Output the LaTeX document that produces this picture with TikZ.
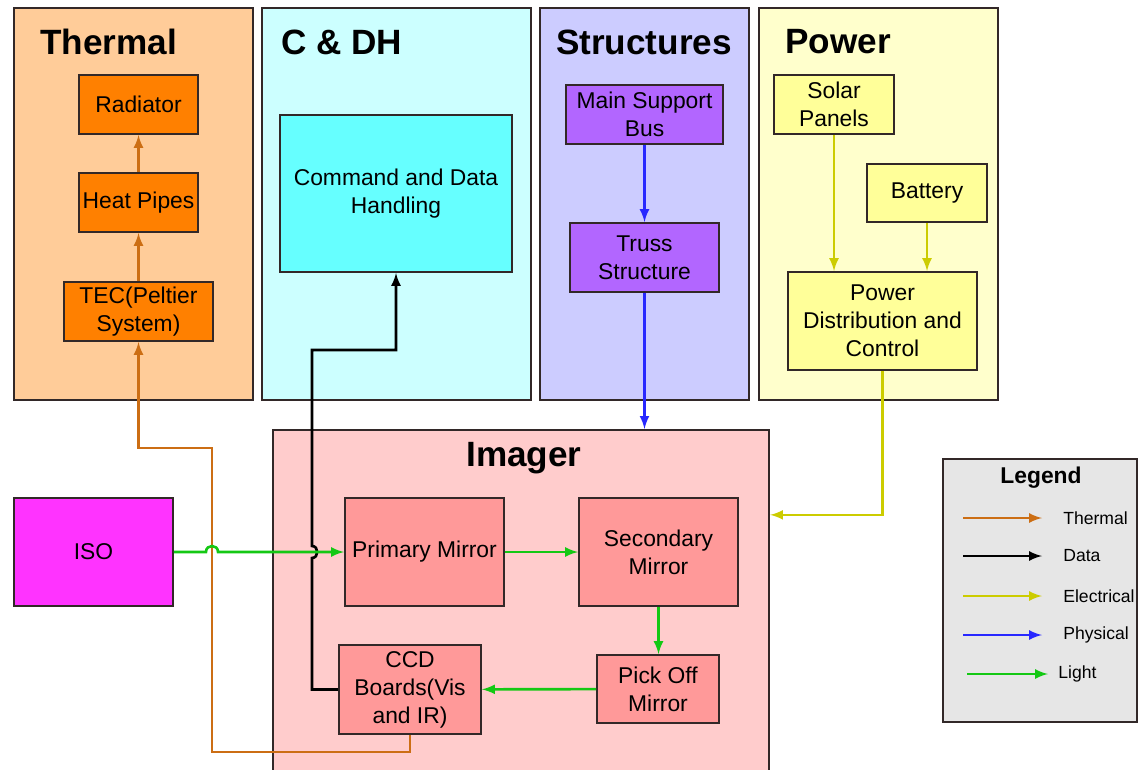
\documentclass[tikz,border=0pt]{standalone}
\usepackage{fontspec}
\setmainfont{Liberation Sans}
\usepackage{xcolor}
\usetikzlibrary{arrows, calc}
\definecolor{thermbg}{RGB}{255,204,153}
\definecolor{cdhbg}{RGB}{204,255,255}
\definecolor{structbg}{RGB}{204,204,255}
\definecolor{powerbg}{RGB}{255,255,204}
\definecolor{imagerbg}{RGB}{255,204,204}
\definecolor{thermbox}{RGB}{255,128,0}
\definecolor{cdhbox}{RGB}{102,255,255}
\definecolor{structbox}{RGB}{178,102,255}
\definecolor{powerbox}{RGB}{255,255,153}
\definecolor{imagerbox}{RGB}{255,153,153}
\definecolor{isobox}{RGB}{255,51,255}
\definecolor{legbg}{RGB}{230,230,230}
\definecolor{qthermal}{RGB}{204,110,20}
\definecolor{qelec}{RGB}{204,204,0}
\definecolor{qphys}{RGB}{40,40,255}
\definecolor{qlight}{RGB}{20,200,20}
\definecolor{qedge}{RGB}{50,40,40}

\begin{document}
\begin{tikzpicture}[x=0.02cm, y=-0.02cm,
  group/.style 2 args={draw=qedge, line width=1.3pt, minimum width=#1*0.02cm, minimum height=#2*0.02cm, inner sep=0pt},
  box/.style 2 args={draw=qedge, line width=1.1pt, minimum width=#1*0.02cm, minimum height=#2*0.02cm, inner sep=1pt, align=center, font=\fontsize{13}{16}\selectfont},
  title/.style={font=\fontsize{20}{24}\selectfont\bfseries, inner sep=0pt},
  thermal/.style={-latex, color=qthermal, line width=1.5pt},
  data/.style={-latex, color=black, line width=1.5pt},
  elec/.style={-latex, color=qelec, line width=1.5pt},
  phys/.style={-latex, color=qphys, line width=1.5pt},
  light/.style={-latex, color=qlight, line width=1.5pt},
  legtext/.style={anchor=west, inner sep=0pt, font=\fontsize{10}{12}\selectfont}]
\useasboundingbox (0,0) rectangle (1139,770);

% subsystem groups
\node[group={239}{392}, fill=thermbg] (thermgrp) at (133.5,204) {};
\node[group={269}{392}, fill=cdhbg] (cdhgrp) at (396.5,204) {};
\node[group={209}{392}, fill=structbg] (structgrp) at (644.5,204) {};
\node[group={239}{392}, fill=powerbg] (powergrp) at (878.5,204) {};
\node[group={496}{354}, fill=imagerbg] (imager) at (521,607) {};
\node[group={194}{263}, fill=legbg] (legend) at (1040,590.5) {};

\node[title, anchor=west] (thermt) at (40,42) {Thermal};
\node[title, anchor=west] (cdht) at (281,42) {C \& DH};
\node[title] (structt) at (644,42) {Structures};
\node[title, anchor=west] (powert) at (785,42) {Power};
\node[title] (imagert) at (524,458) {Imager};

% thermal
\node[box={119}{59}, fill=thermbox] (rad) at (138.5,104.5) {Radiator};
\node[box={119}{59}, fill=thermbox] (heat) at (138.5,202.5) {Heat Pipes};
\node[box={149}{59}, fill=thermbox] (tec) at (138.5,311.5) {TEC(Peltier\\System)};

% c&dh
\node[box={232}{157}, fill=cdhbox] (cdh) at (396,193.5) {Command and Data\\Handling};

% structures
\node[box={157}{59}, fill=structbox] (msb) at (644.5,114.5) {Main Support\\Bus};
\node[box={149}{69}, fill=structbox] (truss) at (644.5,257.5) {Truss\\Structure};

% power
\node[box={120}{59}, fill=powerbox] (solar) at (834,104.5) {Solar\\Panels};
\node[box={120}{58}, fill=powerbox] (batt) at (927,193) {Battery};
\node[box={189}{98}, fill=powerbox] (pdc) at (882.5,321) {Power\\Distribution and\\Control};

% imager
\node[box={159}{108}, fill=imagerbox] (prim) at (424.5,552) {Primary Mirror};
\node[box={159}{108}, fill=imagerbox] (sec) at (658.5,552) {Secondary\\Mirror};
\node[box={122}{68}, fill=imagerbox] (pick) at (658,689) {Pick Off\\Mirror};
\node[box={142}{89}, fill=imagerbox] (ccd) at (410,689.5) {CCD\\Boards(Vis\\and IR)};

\node[box={159}{108}, fill=isobox] (iso) at (93.5,552) {ISO};

% connectors
\draw[thermal] (heat) -- (rad);
\draw[thermal] (tec) -- (heat);
\draw[thermal] (ccd.south) |- (212,752) |- (138.5,448) -- (tec.south);
\draw[data] (ccd.west) -- (312,689.5) -- (312,558) .. controls (319,558) and (319,546) .. (312,546) -- (312,350) -| (cdh.south);
\draw[light] (iso.east) -- (206,552) .. controls (206,544) and (218,544) .. (218,552) -- (prim.west);
\draw[light] (prim) -- (sec);
\draw[light] (sec.south) -- (sec.south |- pick.north);
\draw[light] (pick) -- (ccd);
\draw[phys] (msb) -- (truss);
\draw[phys] (truss.south) -- (truss.south |- imager.north);
\draw[elec] (solar.south) -- (solar.south |- pdc.north);
\draw[elec] (batt.south) -- (batt.south |- pdc.north);
\coordinate (pwrin) at ($(imager.north east)+(0,86)$);
\draw[elec] (pdc.south) |- (pwrin);

% legend
\node[font=\fontsize{13}{15}\selectfont\bfseries, inner sep=0pt] (legt) at (1041,478) {Legend};
\foreach \y/\c/\t in {518/thermal/Thermal, 556/data/Data, 596/elec/Electrical, 635/phys/Physical}{
  \coordinate (a\c) at (963,\y);
  \coordinate (b\c) at (1042,\y);
  \draw[\c] (a\c) -- (b\c);
  \node[legtext] (l\c) at (1063,\y) {\t};
}
\coordinate (alight) at (967,674);
\coordinate (blight) at (1048,674);
\draw[light] (alight) -- (blight);
\node[legtext] (llight) at (1058,674) {Light};
\end{tikzpicture}
\end{document}
